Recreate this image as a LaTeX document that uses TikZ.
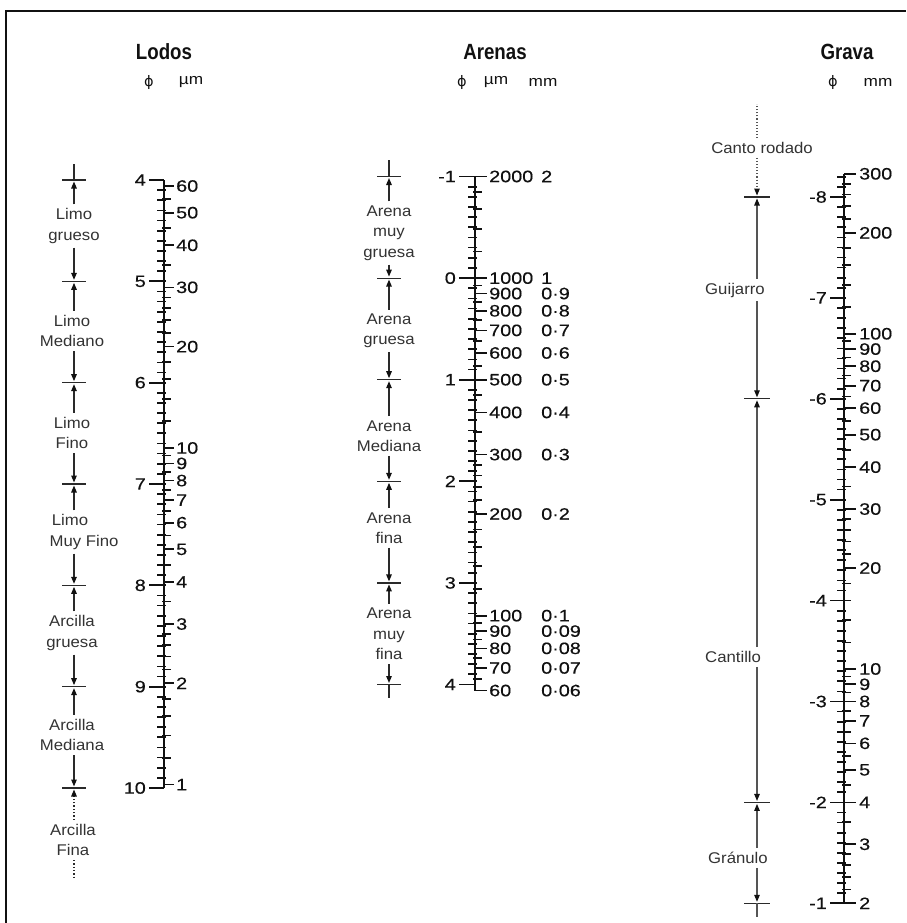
\documentclass[tikz,border=0pt]{standalone}
\usepackage{fontspec}
\setmainfont{Liberation Sans}[FakeStretch=1.08]
\newfontfamily\titlefont{Liberation Sans}[FakeStretch=0.85]
\newfontfamily\numfont{Liberation Sans}[FakeStretch=1.2,FakeBold=0.4]
\newfontfamily\hdrfont{Liberation Sans}[FakeStretch=1.15]
\newfontfamily\phifont{DejaVu Sans}
\usetikzlibrary{arrows.meta}
\definecolor{ink}{HTML}{111111}
\definecolor{lblc}{HTML}{333333}
\definecolor{segc}{HTML}{2A2A2A}
\definecolor{segg}{HTML}{555555}
\tikzset{
  axisline/.style={line width=2.4pt, draw=ink},
  tk/.style={line width=1.7pt, draw=ink},
  num/.style={inner sep=0pt, font=\numfont\fontsize{16.5}{17}\selectfont, text=ink},
  grp/.style={align=center, inner sep=4pt, font=\fontsize{15.5}{20.5}\selectfont, text=lblc},
  bar/.style={line width=1.2pt, draw=segc},
  seg/.style={line width=1.3pt, draw=segc},
  segG/.style={line width=1.1pt, draw=segg},
  tip/.style={-{Triangle[length=7pt,width=5.5pt,color=ink]}, shorten >=1.5pt},
  ttl/.style={font=\titlefont\bfseries\fontsize{22}{24}\selectfont, inner sep=0pt, text=ink},
  hdr/.style={font=\hdrfont\fontsize{15}{16}\selectfont, inner sep=0pt, text=ink},
  phi/.style={font=\phifont\fontsize{14.5}{15}\selectfont, inner sep=0pt, text=ink},
  frame/.style={line width=2pt, draw=ink},
}
\begin{document}
\begin{tikzpicture}[x=1pt,y=-1pt]
\useasboundingbox (0,0) rectangle (906,923);
\fill[white] (0,0) rectangle (906,923);
\coordinate (FrA) at (6,923);
\coordinate (FrB) at (6,11);
\coordinate (FrC) at (906,11);
\draw[frame] (FrA) -- (FrB) -- (FrC);

% ---------- headers
\node[ttl] (tLod) at (164,52) {Lodos};
\node[phi] (hLp) at (149,83) {ϕ};
\node[hdr] (hLu) at (191,82) {µm};
\node[ttl] (tAre) at (495,52) {Arenas};
\node[phi] (hAp) at (462,83) {ϕ};
\node[hdr] (hAu) at (496,82) {µm};
\node[hdr] (hAm) at (543,82) {mm};
\node[ttl] (tGra) at (847,52) {Grava};
\node[phi] (hGp) at (833,83) {ϕ};
\node[hdr] (hGm) at (878,82) {mm};

% ---------- Lodos scale
\draw[axisline] (164,180) -- (164,788);
\foreach \i in {1,...,59}{\pgfmathsetmacro\yy{180+\i*10.133}\draw[tk] (157,\yy) -- (166,\yy);}
\foreach \p in {4,...,10}{\pgfmathsetmacro\yy{180+(\p-4)*101.33}
  \draw[tk] (149,\yy) -- (164,\yy);
  \node[num,anchor=east] (Lp\p) at (146,\yy) {\p};}
\foreach \d in {60,50,40,30,20,10,9,8,7,6,5,4,3,2,1}{\pgfmathsetmacro\yy{180+(ln(1000/\d)/ln(2)-4)*101.33}
  \draw[tk] (164,\yy) -- (174,\yy);
  \node[num,anchor=west] (Lu\d) at (176,\yy) {\d};}
\foreach \d in {55,45,35,28,26,24,22,18,16,14,12,9.5,8.5,7.5,6.5,5.5,4.5,3.5,2.8,2.6,2.4,2.2,1.8,1.6,1.4,1.2}{\pgfmathsetmacro\yy{180+(ln(1000/\d)/ln(2)-4)*101.33}
  \draw[tk] (162,\yy) -- (171,\yy);}

% ---------- Arenas scale
\draw[axisline] (475,176.5) -- (475,690.5);
\foreach \i in {1,...,49}{\pgfmathsetmacro\yy{176.5+\i*10.16}\draw[tk] (468,\yy) -- (477,\yy);}
\foreach \p in {-1,...,4}{\pgfmathsetmacro\yy{176.5+(\p+1)*101.6}
  \draw[tk] (459,\yy) -- (475,\yy);
  \node[num,anchor=east] (Ap\p) at (456,\yy) {\p};}
\foreach \d/\m in {2000/2,1000/1,900/0·9,800/0·8,700/0·7,600/0·6,500/0·5,400/0·4,300/0·3,200/0·2,100/0·1,90/0·09,80/0·08,70/0·07,60/0·06}{\pgfmathsetmacro\yy{176.5+(ln(1000/\d)/ln(2)+1)*101.6}
  \draw[tk] (475,\yy) -- (487,\yy);
  \node[num,anchor=west] (Au\d) at (489,\yy) {\d};
  \node[num,anchor=west] (Am\d) at (541,\yy) {\m};}
\foreach \d in {1800,1600,1400,1200,950,850,750,650,550,450,350,280,260,240,220,180,160,140,120,95,85,75,65}{\pgfmathsetmacro\yy{176.5+(ln(1000/\d)/ln(2)+1)*101.6}
  \draw[tk] (473,\yy) -- (482,\yy);}

% ---------- Grava scale
\draw[axisline] (844,173.9) -- (844,903.3);
\foreach \i in {-82,...,-11}{\pgfmathsetmacro\yy{197+(\i/10+8)*100.9}\draw[tk] (837,\yy) -- (846,\yy);}
\foreach \p in {-8,...,-1}{\pgfmathsetmacro\yy{197+(\p+8)*100.9}
  \draw[tk] (830,\yy) -- (844,\yy);
  \node[num,anchor=east] (Gp\p) at (827,\yy) {\p};}
\foreach \d in {300,200,100,90,80,70,60,50,40,30,20,10,9,8,7,6,5,4,3,2}{\pgfmathsetmacro\yy{197+(8-ln(\d)/ln(2))*100.9}
  \draw[tk] (844,\yy) -- (856,\yy);
  \node[num,anchor=west] (Gm\d) at (859,\yy) {\d};}
\foreach \d in {280,260,240,220,180,160,140,120,95,85,75,65,55,45,35,28,26,24,22,18,16,14,12,9.5,8.5,7.5,6.5,5.5,4.5,3.5,2.8,2.6,2.4,2.2}{\pgfmathsetmacro\yy{197+(8-ln(\d)/ln(2))*100.9}
  \draw[tk] (842,\yy) -- (851,\yy);}

% ---------- Lodos classes
\foreach \n/\yy in {4/180,5/281.33,6/382.67,7/484,8/585.33,9/686.67,10/788}{
  \coordinate (Lc\n) at (74,\yy);
  \draw[bar] ([xshift=-12pt]Lc\n) -- ([xshift=12pt]Lc\n);}
\node[grp] (lg1) at (74,226) {Limo\\grueso};
\node[grp] (lg2) at (72,331) {Limo\\Mediano};
\node[grp] (lg3) at (72,433) {Limo\\Fino};
\node[grp] (lg4) at (84,532) {Limo\rule{28pt}{0pt}\\Muy Fino};
\node[grp] (lg5) at (72,633) {Arcilla\\gruesa};
\node[grp] (lg6) at (72,735) {Arcilla\\Mediana};
\node[grp] (lg7) at (73,840) {Arcilla\\Fina};
\coordinate (LtopEnd) at (74,164);
\coordinate (LbotEnd) at (74,878);
\draw[seg] (Lc4) -- (LtopEnd);
\draw[seg,tip] (lg1.north -| Lc4) -- (Lc4);
\draw[seg,tip] (lg1.south -| Lc4) -- (Lc5);
\draw[seg,tip] (lg2.north -| Lc4) -- (Lc5);
\draw[seg,tip] (lg2.south -| Lc4) -- (Lc6);
\draw[seg,tip] (lg3.north -| Lc4) -- (Lc6);
\draw[seg,tip] (lg3.south -| Lc4) -- (Lc7);
\draw[seg,tip] (lg4.north -| Lc4) -- (Lc7);
\draw[seg,tip] (lg4.south -| Lc4) -- (Lc8);
\draw[seg,tip] (lg5.north -| Lc4) -- (Lc8);
\draw[seg,tip] (lg5.south -| Lc4) -- (Lc9);
\draw[seg,tip] (lg6.north -| Lc4) -- (Lc9);
\draw[seg,tip] (lg6.south -| Lc4) -- (Lc10);
\draw[seg,tip,dotted] (lg7.north -| Lc4) -- (Lc10);
\draw[seg,dotted] (lg7.south -| Lc4) -- (LbotEnd);

% ---------- Arenas classes
\foreach \n/\yy in {a/176.5,b/278.1,c/379.7,d/481.3,e/582.9,f/684.5}{
  \coordinate (Ac\n) at (389,\yy);
  \draw[bar] ([xshift=-12pt]Ac\n) -- ([xshift=12pt]Ac\n);}
\node[grp] (al1) at (389,233) {Arena\\muy\\gruesa};
\node[grp] (al2) at (389,331) {Arena\\gruesa};
\node[grp] (al3) at (389,436) {Arena\\Mediana};
\node[grp] (al4) at (389,528) {Arena\\fina};
\node[grp] (al5) at (389,634) {Arena\\muy\\fina};
\coordinate (AtopEnd) at (389,160);
\coordinate (AbotEnd) at (389,698);
\draw[seg] (Aca) -- (AtopEnd);
\draw[seg,tip] (al1.north -| Aca) -- (Aca);
\draw[seg,tip] (al1.south -| Aca) -- (Acb);
\draw[seg,tip] (al2.north -| Aca) -- (Acb);
\draw[seg,tip] (al2.south -| Aca) -- (Acc);
\draw[seg,tip] (al3.north -| Aca) -- (Acc);
\draw[seg,tip] (al3.south -| Aca) -- (Acd);
\draw[seg,tip] (al4.north -| Aca) -- (Acd);
\draw[seg,tip] (al4.south -| Aca) -- (Ace);
\draw[seg,tip] (al5.north -| Aca) -- (Ace);
\draw[seg,tip] (al5.south -| Aca) -- (Acf);
\draw[seg] (Acf) -- (AbotEnd);

% ---------- Grava classes
\foreach \n/\yy in {a/197,b/398.8,c/802.4,d/903.3}{
  \coordinate (Gc\n) at (757,\yy);
  \draw[bar] ([xshift=-13pt]Gc\n) -- ([xshift=13pt]Gc\n);}
\node[grp] (gl0) at (762,148) {Canto rodado};
\node[grp,anchor=west] (gl1) at (701,290) {Guijarro};
\node[grp,anchor=west] (gl2) at (701,657) {Cantillo};
\node[grp,anchor=west] (gl3) at (704,858) {Gránulo};
\coordinate (GtopEnd) at (757,104);
\coordinate (GbotEnd) at (757,917);
\draw[segG,dotted] (gl0.north -| Gca) -- (GtopEnd);
\draw[segG,tip,dotted] (gl0.south -| Gca) -- (Gca);
\draw[segG,tip] (gl1.north -| Gca) -- (Gca);
\draw[segG,tip] (gl1.south -| Gca) -- (Gcb);
\draw[segG,tip] (gl2.north -| Gca) -- (Gcb);
\draw[segG,tip] (gl2.south -| Gca) -- (Gcc);
\draw[segG,tip] (gl3.north -| Gca) -- (Gcc);
\draw[segG,tip] (gl3.south -| Gca) -- (Gcd);
\draw[segG] (Gcd) -- (GbotEnd);
\end{tikzpicture}
\end{document}
